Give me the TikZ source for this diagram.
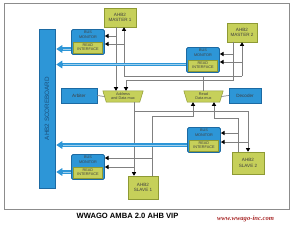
\documentclass[tikz,border=0pt]{standalone}
\usepackage{fontspec}
\setmainfont{Liberation Sans}
\newfontfamily\urlfont{Liberation Serif}
\usetikzlibrary{arrows.meta,calc}
\definecolor{bfill}{HTML}{2D96D7}
\definecolor{bbord}{HTML}{1C6AA3}
\definecolor{yfill}{HTML}{C6D05A}
\definecolor{ybord}{HTML}{8E9A34}
\definecolor{lgray}{HTML}{808080}
\definecolor{framec}{HTML}{8C8C8C}
\definecolor{urlred}{HTML}{A82828}
\definecolor{sbtext}{HTML}{1B4F7A}
\newcommand\busmon[3]{%
  \node[bmbox, minimum width=33pt, minimum height=25pt, anchor=north west] (#1) at (#2,#3) {};
  \node[tinytxt, anchor=north] (#1t) at ($(#1.north)+(0,2)$) {BUS\\MONITOR};
  \node[draw=ybord, fill=yfill, line width=0.4pt, minimum width=29pt, minimum height=11pt, inner sep=0pt, anchor=south, tinytxt] (#1r) at ($(#1.south)+(0,-1.8)$) {READ\\INTERFACE};}
\begin{document}
\begin{tikzpicture}[x=1pt,y=-1pt,
  yel/.style={draw=ybord, fill=yfill, line width=0.5pt, inner sep=0pt, align=center, text=black!75, font=\fontsize{4.6}{5.4}\selectfont},
  blu/.style={draw=bbord, fill=bfill, line width=0.5pt, inner sep=0pt, align=center, text=black!75, font=\fontsize{4.6}{5.4}\selectfont},
  bmbox/.style={draw=bbord, fill=bfill, line width=0.9pt, rounded corners=1.5pt, inner sep=0pt},
  tinytxt/.style={font=\fontsize{3.8}{4.2}\selectfont, align=center, inner sep=0pt, text=black!75},
  sig/.style={draw=lgray, line width=0.7pt},
  sigarr/.style={sig, -{Triangle[width=4.2pt,length=3.6pt,color=black,fill=black]}},
  big/.style={draw=bfill, line width=3.2pt, -{Triangle[width=7.5pt,length=6pt]}},
  bigin/.style={draw=white!55!bfill, line width=0.7pt}]
\useasboundingbox (0,0) rectangle (291,225);
\draw[framec, line width=0.8pt] (4,3) rectangle (289,209);

% scoreboard
\node[blu, minimum width=16pt, minimum height=159pt] (sb) at (47,108.5) {};
\node[rotate=90, inner sep=0pt, text=sbtext, font=\fontsize{6.3}{7}\selectfont] (sbt) at (sb) {AHB2 SCOREBOARD};

% masters / slaves
\node[yel, minimum width=32pt, minimum height=19pt] (m1) at (120,17.5) {AHB2\\MASTER 1};
\node[yel, minimum width=30pt, minimum height=19pt] (m2) at (242,32.5) {AHB2\\MASTER 2};
\node[yel, minimum width=30pt, minimum height=23pt] (s1) at (143,187.5) {AHB2\\SLAVE 1};
\node[yel, minimum width=32pt, minimum height=22pt] (s2) at (248,163) {AHB2\\SLAVE 2};

% arbiter, decoder
\node[blu, minimum width=36pt, minimum height=15pt] (arb) at (79,95.5) {Arbiter};
\node[blu, minimum width=32pt, minimum height=15pt] (dec) at (245,95.5) {Decoder};

% muxes
\path node[minimum width=40pt, minimum height=11pt, inner sep=0pt] (amux) at (123,96.5) {};
\draw[ybord, fill=yfill, line width=0.5pt] (amux.north west) -- (amux.north east) -- ([xshift=-3.5pt]amux.south east) -- ([xshift=3.5pt]amux.south west) -- cycle;
\node[tinytxt] (amuxt) at (amux) {Address\\and Data mux};
\path node[minimum width=39pt, minimum height=11pt, inner sep=0pt] (rmux) at (203.5,96.5) {};
\draw[ybord, fill=yfill, line width=0.5pt] (rmux.north west) -- (rmux.north east) -- ([xshift=-3.5pt]rmux.south east) -- ([xshift=3.5pt]rmux.south west) -- cycle;
\node[tinytxt] (rmuxt) at (rmux) {Read\\Data mux};

% bus monitors
\busmon{bma}{71}{29}
\busmon{bmb}{186}{47}
\busmon{bmc}{187}{127}
\busmon{bmd}{71}{154}

% connectors: masters
\draw[sigarr] (m1.south -| 116,0) -- (amux.north -| 116,0);
\draw[sigarr] (116,36) -- (bma.east |- 0,36);
\draw[sig] (rmux.north) -- (rmux.north |- 0,76);
\draw[sig] (124,76) -- (242,76);
\draw[sigarr] (124,76) -- (m1.south -| 124,0);
\draw[sigarr] (242,76) -- (m2.south -| 242,0);
\draw[sigarr] (124,44) -- (bma.east |- 0,44);
\draw[sigarr] (m2.south -| 233,0) -- (233,80) -- (126,80) -- (amux.north -| 126,0);
\draw[sigarr] (233,54) -- (bmb.east |- 0,54);
\draw[sigarr] (242,62) -- (bmb.east |- 0,62);
\draw[sig] (arb.east) -- ([xshift=1.75pt]amux.west);
\draw[sig] (dec.west) -- ([xshift=-1.75pt]rmux.east);

% connectors: slaves
\draw[sigarr] (amux.south -| 134,0) -- (s1.north -| 134,0);
\draw[sigarr] (134,111) -- (248,111) -- (s2.north -| 248,0);
\draw[sigarr] (134,167) -- (bmd.east |- 0,167);
\draw[sigarr] (152,158) -- (bmd.east |- 0,158);
\draw[sigarr] (s1.north -| 152,0) -- (152,116) -- (193,116) -- (rmux.south -| 193,0);
\draw[sigarr] (s2.north -| 238,0) -- (238,118) -- (214,118) -- (rmux.south -| 214,0);
\draw[sigarr] (238,133) -- (bmc.east |- 0,133);
\draw[sigarr] (248,142) -- (bmc.east |- 0,142);

% thick arrows to scoreboard
\draw[big] (bma.west |- 0,49) -- ([xshift=1pt]sb.east |- 0,49);
\draw[big] (bmb.west |- 0,64.5) -- ([xshift=1pt]sb.east |- 0,64.5);
\draw[big] (bmc.west |- 0,145) -- ([xshift=1pt]sb.east |- 0,145);
\draw[big] (bmd.west |- 0,172) -- ([xshift=1pt]sb.east |- 0,172);
\draw[bigin] (bma.west |- 0,49) -- ([xshift=8pt]sb.east |- 0,49);
\draw[bigin] (bmb.west |- 0,64.5) -- ([xshift=8pt]sb.east |- 0,64.5);
\draw[bigin] (bmc.west |- 0,145) -- ([xshift=8pt]sb.east |- 0,145);
\draw[bigin] (bmd.west |- 0,172) -- ([xshift=8pt]sb.east |- 0,172);

% captions
\node[inner sep=0pt, font=\bfseries\fontsize{7.6}{8}\selectfont] (title) at (127.5,216) {WWAGO AMBA 2.0 AHB VIP};
\node[inner sep=0pt, text=urlred, font=\urlfont\bfseries\itshape\fontsize{6.6}{7}\selectfont] (url) at (245.5,219) {www.wwago-inc.com};
\end{tikzpicture}
\end{document}
